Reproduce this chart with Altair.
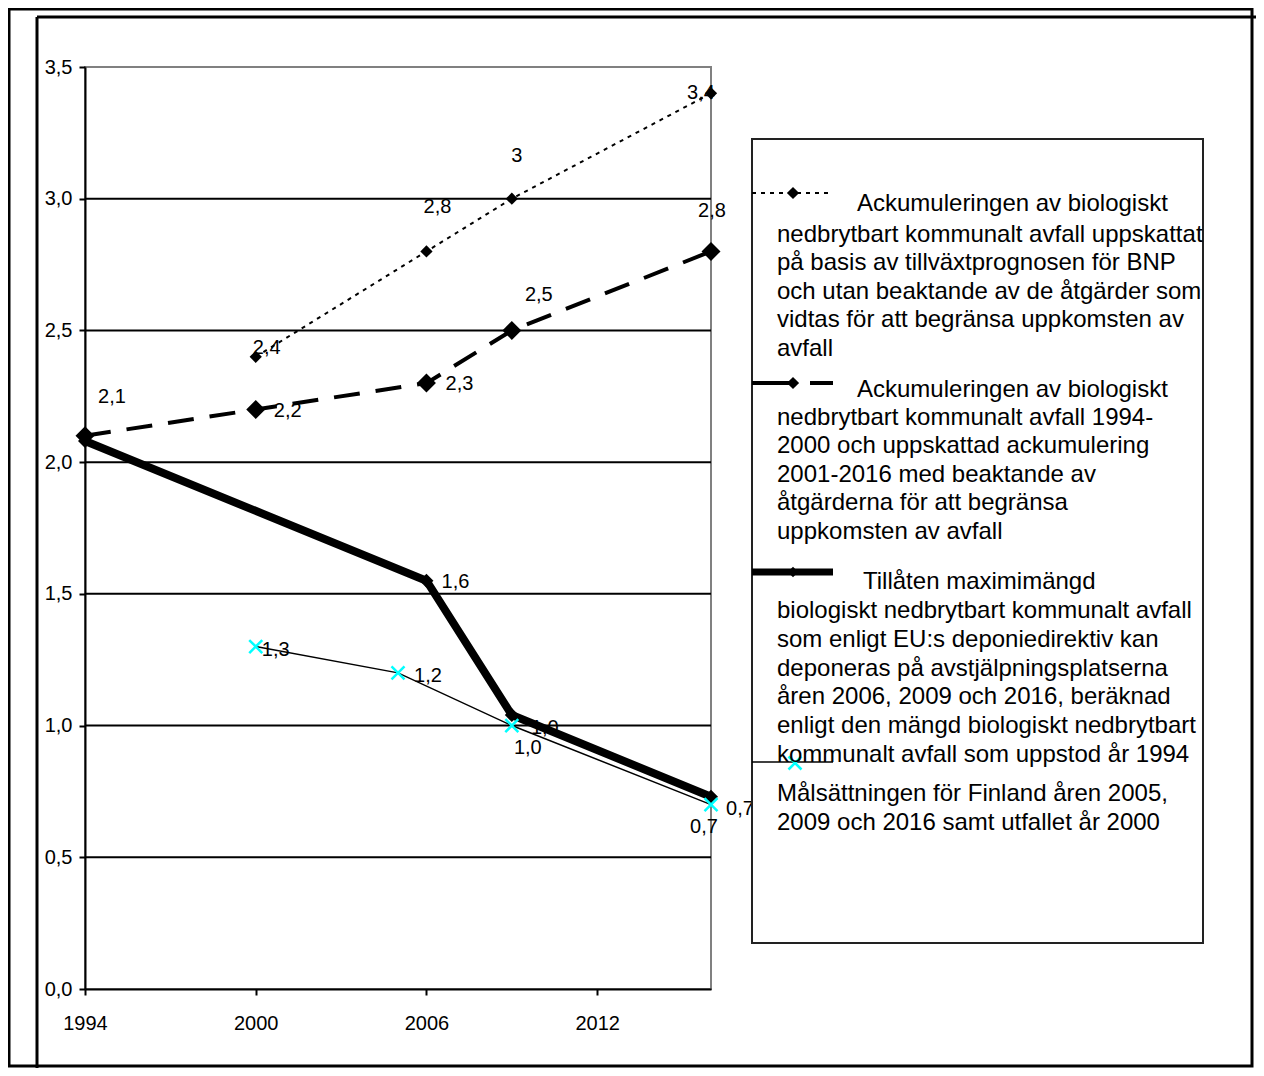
import altair as alt
import pandas as pd

# ---------------- data ----------------
years_gdp = [2000, 2006, 2009, 2016]
vals_gdp = [2.4, 2.8, 3.0, 3.4]
labels_gdp = ["2,4", "2,8", "3", "3,4"]

years_acc = [1994, 2000, 2006, 2009, 2016]
vals_acc = [2.1, 2.2, 2.3, 2.5, 2.8]
labels_acc = ["2,1", "2,2", "2,3", "2,5", "2,8"]

years_max = [1994, 2006, 2009, 2016]
vals_max = [2.08, 1.55, 1.04, 0.73]
labels_max = ["", "1,6", "1,0", "0,7"]

years_fin = [2000, 2005, 2009, 2016]
vals_fin = [1.3, 1.2, 1.0, 0.7]
labels_fin = ["1,3", "1,2", "1,0", "0,7"]

y_ticks = [0.0, 0.5, 1.0, 1.5, 2.0, 2.5, 3.0, 3.5]
grid_vals = [0.5, 1.0, 1.5, 2.0, 2.5, 3.0]
x_ticks = [1994, 2000, 2006, 2012]

legend_first = [
    "Ackumuleringen av biologiskt",
    "Ackumuleringen av biologiskt",
    "Tillåten maximimängd",
    "Målsättningen för Finland åren 2005,",
]
legend_rest = [
    "nedbrytbart kommunalt avfall uppskattat\npå basis av tillväxtprognosen för BNP\noch utan beaktande av de åtgärder som\nvidtas för att begränsa uppkomsten av\navfall",
    "nedbrytbart kommunalt avfall 1994-\n2000 och uppskattad ackumulering\n2001-2016 med beaktande av\nåtgärderna för att begränsa\nuppkomsten av avfall",
    "biologiskt nedbrytbart kommunalt avfall\nsom enligt EU:s deponiedirektiv kan\ndeponeras på avstjälpningsplatserna\nåren 2006, 2009 och 2016, beräknad\nenligt den mängd biologiskt nedbrytbart\nkommunalt avfall som uppstod år 1994",
    "2009 och 2016 samt utfallet år 2000",
]

# ---------------- style ----------------
FONT = "Liberation Sans"
W, H = 626, 922
PAD_L, PAD_T = 77, 59
CANVAS_W, CANVAS_H = 1248, 1060
XPATH = "M-1,-1L1,1M-1,1L1,-1"
CYAN = "#00FFFF"

# label offsets (dx, dy) per series/point, in pixels
OFF = {
    "gdp": [(11, -9), (11, -44), (5, -43), (-10, 0)],
    "acc": [(27, -39), (32, 2), (33, 1), (27, -35), (1, -40)],
    "max": [(0, 0), (29, 1), (33, 13), (29, 12)],
    "fin": [(20, 3), (30, 3), (16, 22), (-7, 22)],
}


def frame(series, years, vals, labels):
    return pd.DataFrame({"series": series, "year": years, "value": vals, "label": labels})


df_gdp = frame("gdp", years_gdp, vals_gdp, labels_gdp)
df_acc = frame("acc", years_acc, vals_acc, labels_acc)
df_max = frame("max", years_max, vals_max, labels_max)
df_fin = frame("fin", years_fin, vals_fin, labels_fin)

xscale = alt.Scale(domain=[1994, 2016], nice=False, zero=False)
yscale = alt.Scale(domain=[0, 3.5], nice=False, zero=False)
xaxis = alt.Axis(values=x_ticks, format="d", grid=False, title=None,
                 labelFont=FONT, labelFontSize=20, labelColor="black",
                 tickColor="black", tickSize=6, tickWidth=2, labelPadding=18,
                 domainColor="black", domainWidth=2, labelFlush=False)
yaxis = alt.Axis(values=y_ticks, grid=False, title=None,
                 labelExpr="replace(format(datum.value, '.1f'), '.', ',')",
                 labelFont=FONT, labelFontSize=20, labelColor="black",
                 tickColor="black", tickSize=6, tickWidth=2, labelPadding=7,
                 domainColor="black", domainWidth=2)
X = alt.X("year:Q", scale=xscale, axis=xaxis)
Y = alt.Y("value:Q", scale=yscale, axis=yaxis)

dummy = pd.DataFrame({"a": [0]})

layers = []

# gridlines
grid_df = pd.DataFrame({"value": grid_vals})
layers.append(alt.Chart(grid_df).mark_rule(color="black", strokeWidth=2).encode(
    y=Y, x=alt.value(0), x2=alt.value(W)))

# lines
layers.append(alt.Chart(df_fin).mark_line(color="black", strokeWidth=1.5).encode(x=X, y=Y))
layers.append(alt.Chart(df_max).mark_line(color="black", strokeWidth=8).encode(x=X, y=Y))
layers.append(alt.Chart(df_acc).mark_line(color="black", strokeWidth=4, strokeDash=[26, 16]).encode(x=X, y=Y))
layers.append(alt.Chart(df_gdp).mark_line(color="black", strokeWidth=2, strokeDash=[4, 5]).encode(x=X, y=Y))

# markers
layers.append(alt.Chart(df_max).mark_point(shape="diamond", filled=True, color="black", size=196, opacity=1).encode(x=X, y=Y))
layers.append(alt.Chart(df_acc).mark_point(shape="diamond", filled=True, color="black", size=361, opacity=1).encode(x=X, y=Y))
layers.append(alt.Chart(df_gdp).mark_point(shape="diamond", filled=True, color="black", size=150, opacity=1).encode(x=X, y=Y))
layers.append(alt.Chart(df_fin).mark_point(shape=XPATH, filled=False, color=CYAN, strokeWidth=2.5, size=169, opacity=1).encode(x=X, y=Y))

# data labels
for key, df in [("gdp", df_gdp), ("acc", df_acc), ("max", df_max), ("fin", df_fin)]:
    for i in range(len(df)):
        if not df["label"].iloc[i]:
            continue
        dx, dy = OFF[key][i]
        layers.append(alt.Chart(df.iloc[[i]]).mark_text(
            font=FONT, fontSize=20, color="black", dx=dx, dy=dy,
            align="center", baseline="middle").encode(x=X, y=Y, text="label:N"))

# outer frame lines
layers.append(alt.Chart(dummy).mark_rect(filled=False, stroke="black", strokeWidth=3).encode(
    x=alt.value(-76), x2=alt.value(1167), y=alt.value(-58), y2=alt.value(999)))
layers.append(alt.Chart(dummy).mark_rule(color="black", strokeWidth=3).encode(
    x=alt.value(-48), x2=alt.value(1180), y=alt.value(-50)))
layers.append(alt.Chart(dummy).mark_rule(color="black", strokeWidth=3).encode(
    x=alt.value(-48), y=alt.value(-50), y2=alt.value(1012)))

# legend box
layers.append(alt.Chart(dummy).mark_rect(fill="white", stroke="#222222", strokeWidth=2).encode(
    x=alt.value(667), x2=alt.value(1118), y=alt.value(72), y2=alt.value(876)))

# legend symbols
sym_y = [126, 316, 505, 695]
layers.append(alt.Chart(dummy).mark_rule(color="black", strokeWidth=2, strokeDash=[4, 5]).encode(
    x=alt.value(667), x2=alt.value(748), y=alt.value(sym_y[0])))
layers.append(alt.Chart(dummy).mark_rule(color="black", strokeWidth=4, strokeDash=[43, 15]).encode(
    x=alt.value(667), x2=alt.value(748), y=alt.value(sym_y[1])))
layers.append(alt.Chart(dummy).mark_rule(color="black", strokeWidth=7).encode(
    x=alt.value(667), x2=alt.value(748), y=alt.value(sym_y[2])))
layers.append(alt.Chart(dummy).mark_rule(color="black", strokeWidth=1.5).encode(
    x=alt.value(667), x2=alt.value(748), y=alt.value(sym_y[3])))
for yy, sz in [(sym_y[0], 150), (sym_y[1], 150), (sym_y[2], 110)]:
    layers.append(alt.Chart(dummy).mark_point(shape="diamond", filled=True, color="black", size=sz, opacity=1).encode(
        x=alt.value(708), y=alt.value(yy)))
layers.append(alt.Chart(dummy).mark_point(shape=XPATH, filled=False, color=CYAN, strokeWidth=2.5, size=169, opacity=1).encode(
    x=alt.value(710), y=alt.value(696)))

# legend texts
first_pos = [(772, 143.7), (772, 329.7), (778, 522), (692, 734)]
rest_pos = [(692, 174.7, 28.6), (692, 358, 28.4), (692, 551, 28.8), (692, 763, 29)]
for i in range(4):
    fx, fy = first_pos[i]
    layers.append(alt.Chart(dummy).mark_text(
        text=legend_first[i], font=FONT, fontSize=24, color="black",
        align="left", baseline="alphabetic").encode(x=alt.value(fx), y=alt.value(fy)))
    rx, ry, lh = rest_pos[i]
    layers.append(alt.Chart(dummy).mark_text(
        text=legend_rest[i], font=FONT, fontSize=24, color="black", lineBreak="\n",
        lineHeight=lh, align="left", baseline="alphabetic").encode(x=alt.value(rx), y=alt.value(ry)))

chart = alt.layer(*layers).properties(
    width=W, height=H,
    autosize=alt.AutoSizeParams(type="none"),
    padding={"left": PAD_L, "top": PAD_T,
             "right": CANVAS_W - PAD_L - W, "bottom": CANVAS_H - PAD_T - H},
    background="white",
).configure_view(stroke="#808080", strokeWidth=2)

chart.save("out.html", embed_options={"renderer": "svg", "actions": False})
